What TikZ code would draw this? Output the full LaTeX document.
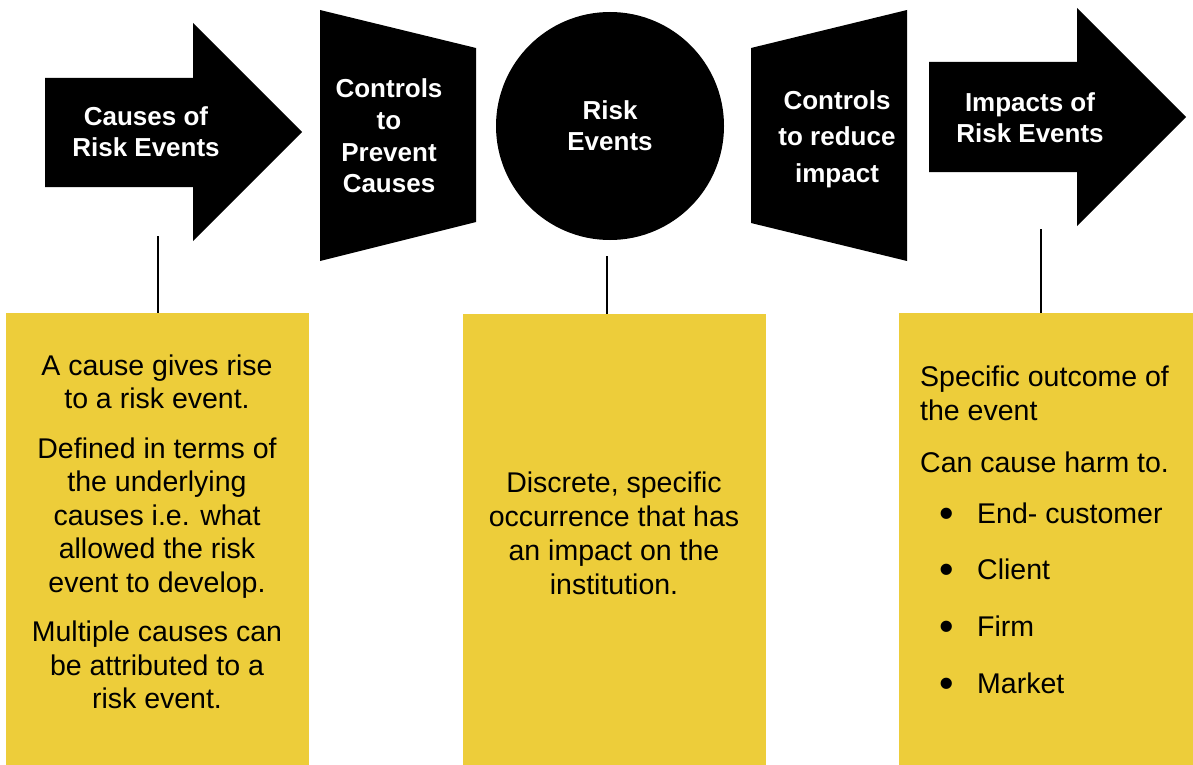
\documentclass[tikz,border=0pt]{standalone}
\usepackage{fontspec}
\setmainfont{Liberation Sans}
\usetikzlibrary{positioning, calc}
\definecolor{noteyellow}{HTML}{EDCD3A}
\newcommand{\itemdot}{\hspace*{19pt}\makebox[38pt][l]{\raisebox{-4pt}{\scalebox{1.45}{•}}}}

\begin{document}
\begin{tikzpicture}[x=1pt, y=-1pt,
  head/.style={text=white, font=\fontsize{26}{31}\selectfont\bfseries, align=center, inner sep=0pt},
  note/.style={rectangle, fill=noteyellow, anchor=north west, inner sep=0pt},
  notetext/.style={font=\fontsize{28.5}{33.5}\selectfont, align=center, inner sep=0pt},
  link/.style={draw=black, line width=2pt}
]
  \useasboundingbox (0,0) rectangle (1193,765);

  % Flow shapes
  \fill (45,78) -- (193,78) -- (193,23) -- (302,132) -- (193,241) -- (193,187) -- (45,187) -- cycle;
  \fill (320,10) -- (476,48) -- (476,222) -- (320,261) -- cycle;
  \fill (751,48) -- (907,10) -- (907,261) -- (751,223) -- cycle;
  \fill (929,62) -- (1077,62) -- (1077,8) -- (1186,117) -- (1077,226) -- (1077,172) -- (929,172) -- cycle;

  % Flow labels
  \node[head] (causes) at (146,132) {Causes of\\Risk Events};
  \node[head, font=\fontsize{26}{31.6}\selectfont\bfseries] (prevent) at (389,136) {Controls\\to\\Prevent\\Causes};
  \node[head, circle, fill=black, minimum size=228pt] (event) at (610,126) {Risk\\Events};
  \node[head, font=\fontsize{26}{36.5}\selectfont\bfseries] (reduce) at (837,139) {Controls\\to reduce\\impact};
  \node[head] (impacts) at (1030,118) {Impacts of\\Risk Events};

  % Notes
  \node[note, minimum width=303pt, minimum height=452pt] (causebox) at (6,313) {};
  \node[note, minimum width=303pt, minimum height=451pt] (eventbox) at (463,314) {};
  \node[note, minimum width=294pt, minimum height=452pt] (impactbox) at (899,313) {};

  \node[notetext] (causetext) at (157,532) {A cause gives rise\\to a risk event.\\[16pt]
    Defined in terms of\\the underlying\\causes i.e. what\\allowed the risk\\event to develop.\\[16pt]
    Multiple causes can\\be attributed to a\\risk event.};
  \node[notetext, font=\fontsize{28.5}{34}\selectfont] (eventtext) at (614,533) {Discrete, specific\\occurrence that has\\an impact on the\\institution.};
  \node[notetext, align=left, anchor=north west] (impacttext) at (920,366) {Specific outcome of\\the event\\[19pt]
    Can cause harm to.\\[17pt]
    \itemdot End- customer\\[23pt]
    \itemdot Client\\[23pt]
    \itemdot Firm\\[24pt]
    \itemdot Market};

  % Links
  \coordinate (causefoot) at (158,236);
  \coordinate (eventfoot) at (607,256);
  \coordinate (impactfoot) at (1041,229);
  \draw[link] (causefoot) -- (causefoot |- causebox.north);
  \draw[link] (eventfoot) -- (eventfoot |- eventbox.north);
  \draw[link] (impactfoot) -- (impactfoot |- impactbox.north);
\end{tikzpicture}
\end{document}
